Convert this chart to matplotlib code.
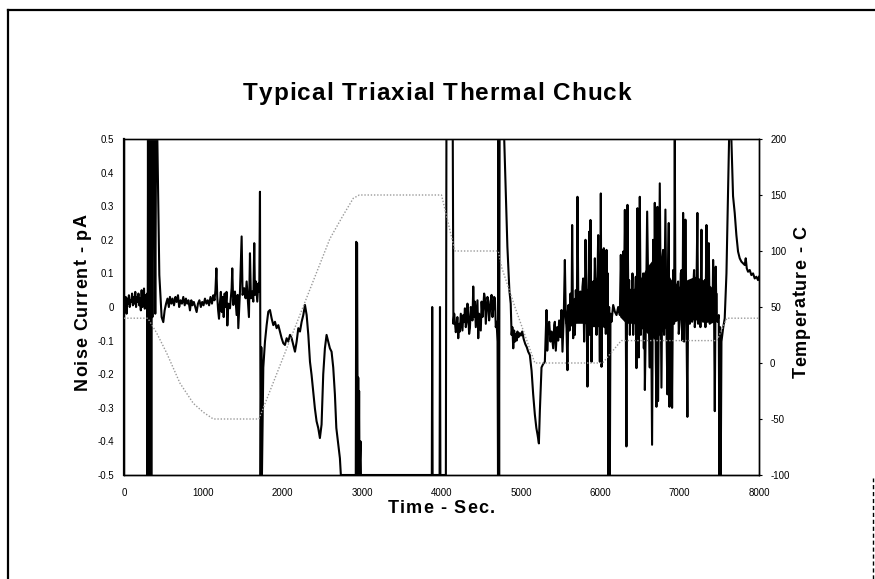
import matplotlib
matplotlib.use("Agg")
import matplotlib.pyplot as plt
import numpy as np
from matplotlib.lines import Line2D
from matplotlib.ticker import FuncFormatter
from matplotlib.font_manager import FontProperties, findfont, get_font

plt.rcParams["font.family"] = ["Liberation Sans", "DejaVu Sans"]
plt.rcParams["axes.unicode_minus"] = False

# Noise current trace (pA) versus time (s); values beyond +/-0.5 sit on the axis limits
time_s = [
    0, 12, 22, 32, 42, 52, 62, 72, 82, 92, 102, 112, 122, 132, 142, 152, 162, 172, 182, 192,
    202, 212, 222, 232, 242, 252, 262, 272, 282,
    292, 296, 302, 308, 314, 320, 326, 332, 338, 344, 350, 358, 366, 384, 394, 404, 420, 445,
    474, 495, 512,
    530, 548, 565, 579, 597, 612, 630, 648, 663, 680, 695, 712, 730, 747, 765, 780, 796, 812,
    831, 848, 862, 880, 898, 915, 932, 950, 968, 985, 1002, 1020, 1038, 1055, 1072, 1090, 1108,
    1125, 1140, 1152, 1164, 1175, 1186, 1197, 1208, 1220, 1232, 1244, 1256, 1268, 1280, 1292,
    1302, 1314,
    1335, 1356, 1364, 1377, 1398, 1419, 1432, 1440, 1461, 1482, 1494, 1515, 1532, 1545, 1566,
    1574, 1587, 1599, 1616, 1629, 1641, 1650, 1662, 1679, 1692, 1704, 1713, 1721, 1730, 1738,
    1755, 1776, 1797, 1818, 1839, 1860, 1881, 1902, 1923, 1944, 1965, 1986, 2007, 2028, 2049,
    2070, 2091, 2112, 2133, 2154, 2175, 2196, 2217, 2238, 2259, 2280, 2301, 2322, 2343, 2363,
    2384, 2405, 2426, 2447, 2468, 2489, 2510, 2531, 2552, 2573, 2594, 2615, 2636, 2657, 2675,
    2700, 2720, 2732,
    2920, 2926, 2931, 2936, 2941, 2946, 2951, 2956, 2962, 2967, 2980, 2985, 3878, 3883, 3888,
    3976, 3981, 3986, 4055, 4062, 4142, 4150,
    4160, 4169, 4180, 4190, 4200, 4211, 4222, 4232, 4243, 4253, 4264, 4274, 4285, 4295, 4306,
    4316, 4327, 4337, 4348, 4358, 4369, 4379, 4390, 4400, 4411, 4421, 4432, 4442, 4453, 4463,
    4474, 4484, 4495, 4505, 4516, 4526, 4537, 4547, 4558, 4568, 4579, 4589, 4600, 4610, 4621,
    4631, 4642, 4652, 4663, 4673, 4684, 4694, 4706,
    4712, 4718, 4726, 4732, 4790, 4830, 4855, 4872, 4883, 4893, 4904, 4915, 4925, 4936, 4946,
    4957, 4970, 4985, 5000, 5017, 5035, 5055, 5075, 5092, 5113, 5135, 5155, 5176, 5195, 5210,
    5227, 5239, 5260, 5280, 5302, 5313, 5323, 5332, 5345,
    5357, 5373, 5386, 5407, 5420, 5428, 5440, 5457, 5470, 5482, 5499, 5512, 5524, 5541, 5554,
    5566, 5575, 5587, 5600, 5613, 5625, 5638, 5646, 5659, 5671, 5680, 5692, 5705, 5713, 5726,
    5739, 5751, 5764, 5776, 5785, 5797, 5806, 5814, 5827, 5839, 5852, 5860, 5869, 5877, 5890,
    5902, 5911, 5919, 5932, 5944, 5953, 5965, 5974, 5986, 5995, 6003, 6007, 6016, 6028, 6037,
    6045, 6053, 6062, 6070, 6079, 6087, 6095, 6104, 6112, 6121, 6129, 6142, 6163, 6184, 6205,
    6226, 6247,
    6259, 6272, 6280, 6289, 6297, 6310, 6322, 6330, 6343, 6356, 6364, 6373, 6385, 6394, 6406,
    6415, 6427, 6436, 6448, 6456, 6469, 6477, 6486, 6498, 6511, 6524, 6532, 6541, 6549, 6555,
    6562, 6574, 6591, 6608,
    6624, 6637, 6653, 6666, 6679, 6687, 6700, 6708, 6720, 6729, 6741, 6750, 6763, 6771, 6784,
    6792, 6804, 6821, 6834, 6846, 6855, 6863, 6872, 6876, 6888, 6897, 6905, 6918, 6930, 6939,
    6947, 6960, 6968, 6981, 6989, 7002, 7014, 7023, 7035, 7044, 7056, 7065, 7073, 7086, 7098,
    7107, 7115, 7128, 7140, 7149, 7157, 7170, 7182, 7191, 7199, 7212, 7224, 7233, 7241, 7254,
    7262, 7275, 7283, 7296, 7308, 7317, 7325, 7338, 7350, 7359, 7367, 7380, 7388, 7401, 7413,
    7422, 7434, 7443, 7455, 7464, 7476, 7493, 7501, 7510, 7518, 7527, 7548, 7568, 7590, 7611,
    7623, 7652, 7673, 7694, 7715, 7736, 7757, 7778, 7799, 7820, 7833, 7846, 7862, 7883, 7904,
    7925, 7946, 7967, 7988, 8000,
]

noise_pA = [
    0.02, 0.005, 0.03, -0.02, 0.025, 0.01, 0.035, 0.0, 0.02, 0.015, 0.04, 0.005, 0.03, 0.01, 0.045,
    0.0, 0.03, 0.015, 0.04, 0.005, 0.025, -0.01, 0.05, 0.0, 0.02, 0.055, -0.005, 0.035, 0.02,
    0.04, -0.5, 0.5, -0.5, 0.5, -0.5, 0.5, -0.5, 0.5, -0.5, 0.5, -0.03, 0.5, 0.5, -0.02, 0.5, 0.5,
    0.095, -0.03, -0.045, -0.01,
    0.01, 0.025, 0.0, 0.03, 0.01, 0.025, 0.005, 0.03, 0.015, 0.035, 0.0, 0.02, 0.01, 0.03, 0.005,
    0.025, 0.01, 0.02, -0.01, 0.02, 0.005, 0.015, 0.0, -0.015, 0.01, 0.02, 0.0, 0.015, 0.005,
    0.025, 0.01, 0.02, 0.005, 0.03, 0.01, 0.035, 0.02, 0.05, 0.115, 0.03, -0.01, -0.035, 0.01,
    0.045, -0.015, 0.03, -0.03, 0.04, 0.0, 0.045, -0.055, 0.01,
    -0.004, 0.056, 0.115, 0.006, 0.046, -0.024, 0.036, -0.063, 0.046, 0.21, 0.036, 0.056, 0.026,
    0.076, -0.004, -0.03, 0.16, 0.026, 0.046, 0.016, 0.19, 0.036, 0.076, 0.016, 0.07, 0.046,
    0.343, -0.5, -0.12, -0.5, -0.18, -0.103, -0.054, -0.014, -0.009, -0.034, -0.054, -0.044,
    -0.063, -0.054, -0.073, -0.093, -0.108, -0.113, -0.093, -0.103, -0.083, -0.093, -0.113,
    -0.133, -0.103, -0.063, -0.073, -0.044, -0.024, 0.006, -0.024, -0.083, -0.163, -0.202,
    -0.252, -0.302, -0.34, -0.36, -0.39, -0.35, -0.2, -0.123, -0.083, -0.103, -0.123, -0.133,
    -0.18, -0.26, -0.36, -0.41, -0.45, -0.5,
    -0.5, 0.194, -0.5, 0.19, -0.21, -0.5, -0.21, -0.5, -0.25, -0.5, -0.4, -0.5, -0.5, 0.0, -0.5,
    -0.5, 0.0, -0.5, -0.5, 0.5, 0.5, -0.05,
    -0.02, -0.044, -0.075, -0.063, -0.03, -0.093, -0.05, -0.073, -0.02, -0.044, -0.07, -0.024,
    -0.045, -0.004, -0.06, -0.044, 0.01, -0.024, -0.08, -0.063, 0.0, -0.014, -0.04, 0.061,
    -0.03, 0.016, -0.06, -0.024, 0.02, -0.093, -0.02, -0.044, -0.07, 0.016, -0.03, -0.004,
    0.04, 0.026, -0.05, -0.014, 0.03, 0.016, -0.04, -0.014, 0.02, 0.036, -0.03, -0.004, 0.03,
    0.026, -0.06, -0.044, -0.103,
    -0.5, 0.5, -0.5, 0.5, 0.5, 0.18, 0.05, 0.01, -0.083, -0.06, -0.123, -0.07, -0.103, -0.08,
    -0.1, -0.073, -0.09, -0.078, -0.085, -0.073, -0.095, -0.11, -0.12, -0.133, -0.143, -0.19,
    -0.26, -0.32, -0.36, -0.38, -0.406, -0.31, -0.18, -0.17, -0.163, -0.08, -0.009, -0.13,
    -0.06,
    -0.044, -0.103, -0.073, -0.123, -0.054, -0.044, -0.13, -0.06, -0.1, -0.04, -0.09, -0.009,
    -0.133, -0.02, 0.14, -0.03, -0.063, -0.188, 0.006, -0.07, 0.04, -0.05, 0.244, -0.093,
    0.016, -0.083, 0.05, -0.03, 0.328, -0.044, 0.03, 0.046, -0.024, 0.06, 0.085, -0.103,
    0.02, 0.2, 0.016, -0.237, 0.05, 0.224, -0.083, 0.259, -0.163, 0.06, 0.076, -0.02, 0.145,
    0.0, -0.083, 0.08, 0.214, 0.02, -0.163, 0.1, 0.338, -0.178, 0.17, 0.0, 0.175, -0.06, 0.16,
    -0.08, 0.17, -0.05, 0.1, -0.5, 0.0, -0.5, -0.02, -0.044, 0.006, -0.014, -0.024, 0.0,
    -0.024,
    0.155, -0.024, 0.1, 0.165, -0.03, 0.289, -0.05, -0.415, 0.304, -0.034, 0.08, -0.083, 0.05,
    -0.024, 0.1, -0.083, 0.05, -0.004, 0.09, -0.182, 0.294, 0.0, -0.15, 0.328, -0.083, 0.06,
    0.016, 0.1, -0.123, 0.05, -0.247, -0.054, 0.284, -0.004,
    -0.18, 0.1, -0.41, 0.2, -0.05, 0.31, -0.16, -0.297, 0.298, -0.28, 0.1, 0.368, 0.0, -0.24,
    0.15, 0.17, -0.083, 0.29, -0.05, -0.26, 0.12, 0.25, -0.297, -0.083, 0.046, -0.05, -0.3,
    0.11, -0.05, 0.5, 0.0, -0.03, 0.06, 0.076, -0.08, -0.044, 0.1, 0.11, -0.1, 0.28, -0.103,
    0.05, 0.26, -0.063, -0.327, 0.02, 0.016, -0.05, 0.076, -0.02, -0.044, 0.05, 0.11, -0.06,
    -0.034, 0.05, 0.28, -0.05, -0.024, 0.07, -0.06, 0.23, -0.03, -0.044, 0.03, 0.08, -0.06,
    0.244, -0.044, 0.02, 0.19, -0.05, -0.024, 0.016, -0.04, 0.14, -0.02, -0.31, 0.12, -0.03,
    -0.044, -0.024, -0.5, -0.06, -0.5, -0.103, -0.063, -0.034, 0.1, 0.35, 0.5, 0.5, 0.33,
    0.28, 0.214, 0.165, 0.145, 0.135, 0.13, 0.125, 0.145, 0.115, 0.105, 0.11, 0.095, 0.1,
    0.085, 0.09, 0.08, 0.09,
]

# Envelope of the densely sampled noise, where the trace merges into a solid band (pA)
band_time_s = [5560, 5620, 5700, 5800, 5900, 5960, 6040, 6095, 6170,
               6250, 6330, 6420, 6500, 6600, 6700, 6800, 6900, 7000, 7100, 7200, 7300,
               7400, 7480]
band_low_pA = [-0.05, -0.06, -0.05, -0.05, -0.06, -0.06, -0.06, -0.05, np.nan,
               -0.03, -0.05, -0.05, -0.06, -0.08, -0.1, -0.07, -0.05, -0.04, -0.04, -0.04,
               -0.04, -0.05, -0.04]
band_high_pA = [-0.02, 0.02, 0.03, 0.05, 0.06, 0.09, 0.11, 0.08, np.nan,
                0.06, 0.06, 0.05, 0.08, 0.12, 0.15, 0.12, 0.08, 0.06, 0.08, 0.09, 0.08,
                0.06, 0.04]

# Chuck temperature set profile (C)
temp_time_s = [0, 300, 410, 537, 705, 873, 1000, 1125, 1700, 2594, 2762, 2888, 2964,
               4000, 4169, 4715, 4760, 4925, 5176, 6030, 6265, 7470, 7595, 8000]
temp_C = [40, 40, 27, 9, -18, -36, -44, -50, -50, 111, 132, 147, 150,
          150, 100, 100, 85, 50, 0, 0, 20, 20, 40, 40]

left_ticks = [-0.5, -0.4, -0.3, -0.2, -0.1, 0.0, 0.1, 0.2, 0.3, 0.4, 0.5]
right_ticks = [-100, -50, 0, 50, 100, 150, 200]
x_ticks = [0, 1000, 2000, 3000, 4000, 5000, 6000, 7000, 8000]

W, H = 875, 579
fig = plt.figure(figsize=(W / 100, H / 100), dpi=100)
fig.patch.set_facecolor("white")


def spaced_text(s, center_px, base_px, size, span_px, vertical=False):
    """Draw bold text letter by letter so that it spans span_px pixels.

    Horizontal: center_px is x, base_px is the baseline y (from top).
    Vertical (reads upward): center_px is y (from top), base_px is the baseline x.
    """
    prop = FontProperties(family="Liberation Sans", weight="bold", size=size)
    font = get_font(findfont(prop))
    font.set_size(size, fig.dpi)
    adv = [font.load_char(ord(c)).linearHoriAdvance / 65536 for c in s]
    track = (span_px - sum(adv)) / max(len(s) - 1, 1)
    pos = -span_px / 2
    for c, a in zip(s, adv):
        if vertical:
            fig.text(base_px / W, 1 - (center_px - pos) / H, c, fontproperties=prop,
                     rotation=90, rotation_mode="anchor", ha="left", va="baseline")
        else:
            fig.text((center_px + pos) / W, 1 - base_px / H, c, fontproperties=prop,
                     ha="left", va="baseline")
        pos += a + track


ax = fig.add_axes([124 / W, 1 - 475 / H, (759 - 124) / W, (475 - 139) / H])
ax.fill_between(band_time_s, band_low_pA, band_high_pA, color="black", lw=0, zorder=2)
ax.plot(time_s, noise_pA, color="black", lw=1.5, zorder=2)
ax.set_xlim(0, 8000)
ax.set_ylim(-0.5, 0.5)
ax.set_xticks(x_ticks)
ax.set_yticks(left_ticks)
ax.yaxis.set_major_formatter(FuncFormatter(lambda v, p: "0" if abs(v) < 1e-9 else f"{v:.1f}"))
ax.tick_params(axis="both", labelsize=7, length=0, pad=7)
ax.tick_params(axis="x", pad=9)

ax2 = ax.twinx()
ax2.plot(temp_time_s, temp_C, color="#9a9a9a", lw=1.0, linestyle=(0, (1, 1.3)), zorder=3)
ax2.set_ylim(-100, 200)
ax2.set_yticks(right_ticks)
ax2.tick_params(axis="y", labelsize=7, length=2, direction="out", pad=6)

for a in (ax, ax2):
    for s in a.spines.values():
        s.set_linewidth(1.0)
        s.set_color("black")
ax.spines["left"].set_linewidth(1.6)
ax.spines["top"].set_color("#444444")

spaced_text("Typical Triaxial Thermal Chuck", 437, 100, 17.5, 388)
spaced_text("Time - Sec.", 441, 513, 13, 107)
spaced_text("Noise Current - pA", 302, 87, 13, 175, vertical=True)
spaced_text("Temperature - C", 302, 806, 13, 151, vertical=True)

# page frame around the figure
fig.add_artist(Line2D([8 / W, 8 / W], [0, 1 - 10 / H], transform=fig.transFigure,
                      color="black", lw=1.6))
fig.add_artist(Line2D([8 / W, 1], [1 - 10 / H, 1 - 10 / H], transform=fig.transFigure,
                      color="black", lw=1.6))
fig.add_artist(Line2D([873 / W, 873 / W], [0, 1 - 478 / H], transform=fig.transFigure,
                      color="black", lw=1.0, linestyle=(0, (3, 2))))

fig.savefig("out.png", dpi=100, facecolor="white")
